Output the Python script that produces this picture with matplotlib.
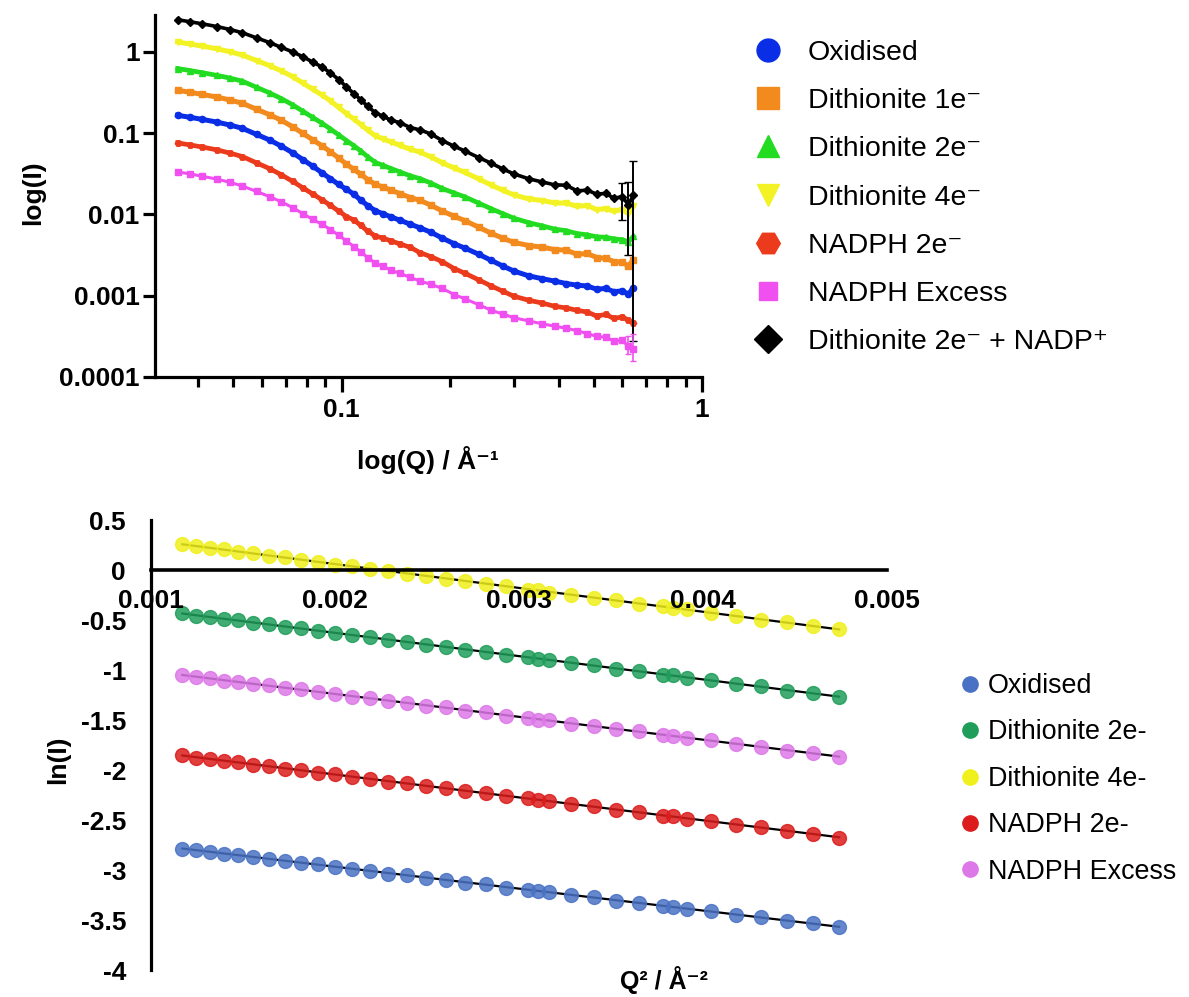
import numpy as np
import matplotlib
matplotlib.use("Agg")
import matplotlib.pyplot as plt
from matplotlib.lines import Line2D
from matplotlib.ticker import NullFormatter, NullLocator

plt.rcParams['font.family'] = ['Liberation Sans', 'DejaVu Sans']
plt.rcParams['axes.unicode_minus'] = False

# ---------------- Top panel data: log10(I) vs Q ----------------
q = [0.035, 0.038, 0.041, 0.045, 0.049, 0.053, 0.058, 0.063, 0.068, 0.073,
     0.078, 0.083, 0.088, 0.093, 0.098, 0.103, 0.108, 0.113, 0.118, 0.124,
     0.130, 0.137, 0.145, 0.155, 0.165, 0.177, 0.190, 0.205, 0.220, 0.240,
     0.260, 0.280, 0.300, 0.330, 0.360, 0.390, 0.420, 0.450, 0.480, 0.510,
     0.540, 0.570, 0.600, 0.625, 0.645]

log_oxidised = [-0.779, -0.805, -0.830, -0.863, -0.900, -0.940, -1.015, -1.083, -1.160, -1.240,
                -1.325, -1.405, -1.485, -1.560, -1.630, -1.690, -1.750, -1.825, -1.890, -1.955,
                -1.990, -2.030, -2.071, -2.120, -2.165, -2.220, -2.290, -2.360, -2.415, -2.490,
                -2.565, -2.635, -2.695, -2.755, -2.790, -2.820, -2.850, -2.870, -2.880, -2.920,
                -2.910, -2.950, -2.940, -2.980, -2.900]
log_dith1e = [-0.471, -0.497, -0.522, -0.555, -0.592, -0.632, -0.705, -0.772, -0.842, -0.920,
              -1.002, -1.080, -1.152, -1.228, -1.305, -1.380, -1.445, -1.505, -1.570, -1.630,
              -1.662, -1.702, -1.743, -1.792, -1.827, -1.887, -1.957, -2.022, -2.077, -2.157,
              -2.232, -2.292, -2.342, -2.382, -2.402, -2.432, -2.440, -2.490, -2.480, -2.530,
              -2.540, -2.580, -2.590, -2.630, -2.560]
log_dith2e = [-0.204, -0.230, -0.255, -0.288, -0.322, -0.360, -0.435, -0.503, -0.575, -0.650,
              -0.730, -0.805, -0.875, -0.948, -1.020, -1.090, -1.153, -1.220, -1.290, -1.360,
              -1.395, -1.435, -1.476, -1.525, -1.560, -1.615, -1.680, -1.735, -1.785, -1.860,
              -1.930, -1.990, -2.045, -2.100, -2.140, -2.180, -2.200, -2.235, -2.250, -2.275,
              -2.280, -2.300, -2.310, -2.335, -2.270]
log_dith4e = [0.123, 0.097, 0.072, 0.039, 0.002, -0.038, -0.106, -0.168, -0.233, -0.303,
              -0.383, -0.458, -0.528, -0.601, -0.683, -0.758, -0.826, -0.893, -0.963, -1.033,
              -1.068, -1.108, -1.149, -1.198, -1.233, -1.293, -1.363, -1.428, -1.483, -1.563,
              -1.638, -1.703, -1.758, -1.808, -1.828, -1.858, -1.860, -1.900, -1.890, -1.940,
              -1.930, -1.960, -1.940, -1.990, -1.900]
log_nadph2e = [-1.119, -1.145, -1.170, -1.205, -1.245, -1.288, -1.365, -1.435, -1.512, -1.592,
               -1.672, -1.747, -1.817, -1.888, -1.958, -2.025, -2.068, -2.135, -2.205, -2.265,
               -2.290, -2.325, -2.362, -2.405, -2.470, -2.520, -2.580, -2.665, -2.725, -2.805,
               -2.880, -2.945, -3.005, -3.055, -3.090, -3.130, -3.150, -3.180, -3.200, -3.250,
               -3.230, -3.280, -3.260, -3.300, -3.330]
log_nadph_excess = [-1.476, -1.502, -1.530, -1.565, -1.605, -1.650, -1.717, -1.780, -1.845, -1.915,
                    -1.990, -2.060, -2.120, -2.185, -2.255, -2.325, -2.395, -2.460, -2.530, -2.600,
                    -2.640, -2.685, -2.725, -2.775, -2.820, -2.860, -2.910, -2.985, -3.040, -3.110,
                    -3.180, -3.225, -3.270, -3.310, -3.345, -3.375, -3.400, -3.430, -3.465, -3.500,
                    -3.510, -3.560, -3.550, -3.620, -3.660]
log_dith2e_nadp = [0.397, 0.371, 0.346, 0.313, 0.276, 0.236, 0.173, 0.116, 0.056, 0.001,
                   -0.059, -0.124, -0.184, -0.257, -0.339, -0.429, -0.512, -0.589, -0.669, -0.749,
                   -0.790, -0.840, -0.870, -0.930, -0.960, -1.010, -1.090, -1.160, -1.220, -1.300,
                   -1.370, -1.440, -1.500, -1.560, -1.600, -1.635, -1.640, -1.710, -1.700, -1.750,
                   -1.740, -1.800, -1.780, -1.880, -1.760]

# error bars at the highest-Q points
black_err_q = [0.600, 0.625, 0.645]
black_err_lo = [0.008, 0.010, 0.0171]
black_err_hi = [0.008, 0.012, 0.0276]
magenta_err_q = [0.625, 0.645]
magenta_err_lo = [0.00005, 0.00006]
magenta_err_hi = [0.00008, 0.00012]

top_labels = ['Oxidised', 'Dithionite 1e\u207b', 'Dithionite 2e\u207b', 'Dithionite 4e\u207b',
              'NADPH 2e\u207b', 'NADPH Excess', 'Dithionite 2e\u207b + NADP\u207a']
top_series = [log_oxidised, log_dith1e, log_dith2e, log_dith4e, log_nadph2e,
              log_nadph_excess, log_dith2e_nadp]
top_colors = ['#0a2ee6', '#f28a1e', '#22dc22', '#f2f224', '#ec3a1c', '#f050f0', '#000000']
top_markers = ['o', 's', '^', 'v', 'H', 's', 'D']
top_legend_ms = [16.5, 16, 16, 16, 17, 13.5, 14]
top_lw = [3.6, 3.6, 3.4, 3.6, 3.4, 2.2, 2.6]

# ---------------- Bottom panel data: ln(I) vs Q^2 ----------------
q2 = [0.001170, 0.001243, 0.001318, 0.001395, 0.001475, 0.001556, 0.001640, 0.001726,
      0.001815, 0.001905, 0.001998, 0.002093, 0.002190, 0.002290, 0.002391, 0.002495,
      0.002601, 0.002709, 0.002820, 0.002932, 0.003047, 0.003105, 0.003164, 0.003283,
      0.003405, 0.003528, 0.003654, 0.003782, 0.003835, 0.003913, 0.004045, 0.004180,
      0.004317, 0.004456, 0.004597, 0.004740]

ln_oxidised = [-2.785, -2.798, -2.815, -2.838, -2.850, -2.866, -2.893, -2.905, -2.930, -2.944,
               -2.970, -2.985, -3.006, -3.035, -3.050, -3.080, -3.096, -3.126, -3.143, -3.175,
               -3.195, -3.212, -3.220, -3.252, -3.272, -3.306, -3.326, -3.362, -3.366, -3.390,
               -3.412, -3.449, -3.472, -3.510, -3.534, -3.565]
ln_dith2e = [-0.430, -0.455, -0.466, -0.490, -0.503, -0.528, -0.541, -0.569, -0.582, -0.610,
             -0.625, -0.654, -0.670, -0.700, -0.716, -0.748, -0.765, -0.798, -0.816, -0.850,
             -0.868, -0.890, -0.896, -0.931, -0.952, -0.988, -1.010, -1.048, -1.052, -1.078,
             -1.100, -1.140, -1.163, -1.205, -1.228, -1.268]
ln_dith4e = [0.265, 0.245, 0.222, 0.208, 0.183, 0.170, 0.142, 0.128, 0.100, 0.085,
             0.055, 0.040, 0.008, -0.008, -0.040, -0.056, -0.091, -0.108, -0.143, -0.160,
             -0.197, -0.203, -0.225, -0.245, -0.282, -0.303, -0.340, -0.362, -0.383, -0.393,
             -0.432, -0.455, -0.495, -0.520, -0.560, -0.585]
ln_nadph2e = [-1.850, -1.876, -1.885, -1.911, -1.921, -1.947, -1.959, -1.986, -1.999, -2.027,
              -2.041, -2.070, -2.085, -2.115, -2.131, -2.162, -2.179, -2.211, -2.229, -2.262,
              -2.281, -2.302, -2.308, -2.343, -2.363, -2.399, -2.420, -2.457, -2.461, -2.487,
              -2.509, -2.548, -2.572, -2.611, -2.636, -2.676]
ln_nadph_excess = [-1.048, -1.070, -1.081, -1.105, -1.116, -1.142, -1.153, -1.181, -1.193, -1.222,
                   -1.235, -1.265, -1.279, -1.310, -1.325, -1.357, -1.373, -1.406, -1.423, -1.457,
                   -1.475, -1.496, -1.502, -1.537, -1.557, -1.593, -1.614, -1.651, -1.655, -1.681,
                   -1.703, -1.742, -1.765, -1.805, -1.829, -1.868]

bot_labels = ['Oxidised', 'Dithionite 2e-', 'Dithionite 4e-', 'NADPH 2e-', 'NADPH Excess']
bot_series = [ln_oxidised, ln_dith2e, ln_dith4e, ln_nadph2e, ln_nadph_excess]
bot_colors = ['#4a72c4', '#1f9e5a', '#f0f01c', '#dc1c1c', '#dd78e8']

x_ticks_top = [0.1, 1]
x_ticklabels_top = ['0.1', '1']
y_ticks_top = [1e-4, 1e-3, 1e-2, 1e-1, 1]
y_ticklabels_top = ['0.0001', '0.001', '0.01', '0.1', '1']
x_ticks_bot = [0.001, 0.002, 0.003, 0.004, 0.005]
x_ticklabels_bot = ['0.001', '0.002', '0.003', '0.004', '0.005']
y_ticks_bot = [0.5, 0, -0.5, -1, -1.5, -2, -2.5, -3, -3.5, -4]
y_ticklabels_bot = ['0.5', '0', '-0.5', '-1', '-1.5', '-2', '-2.5', '-3', '-3.5', '-4']

# ---------------- Figure ----------------
W, H = 1189, 997
fig = plt.figure(figsize=(W / 100, H / 100), dpi=100)

def rect(l, t, r, b):
    return [l / W, 1 - b / H, (r - l) / W, (b - t) / H]

# ---- top axes
ax1 = fig.add_axes(rect(155, 15, 702, 377))
qa = np.array(q)
for vals, col, mk, lw in zip(top_series, top_colors, top_markers, top_lw):
    ax1.plot(qa, 10 ** np.array(vals), color=col, marker=mk, ms=4.5, lw=lw,
             mec=col, mfc=col, zorder=2)
ax1.errorbar(black_err_q, 10 ** np.array(log_dith2e_nadp[-3:]),
             yerr=[black_err_lo, black_err_hi], fmt='none', ecolor='black',
             elinewidth=1.4, capsize=3, zorder=3)
ax1.errorbar(magenta_err_q, 10 ** np.array(log_nadph_excess[-2:]),
             yerr=[magenta_err_lo, magenta_err_hi], fmt='none', ecolor='#f050f0',
             elinewidth=1.2, capsize=2, zorder=3)

ax1.set_xscale('log')
ax1.set_yscale('log')
ax1.set_xlim(0.0303, 1)
ax1.set_ylim(1e-4, 2.85)
for s in ['top', 'right']:
    ax1.spines[s].set_visible(False)
for s in ['left', 'bottom']:
    ax1.spines[s].set_linewidth(2.3)
ax1.set_xticks(x_ticks_top, x_ticklabels_top, fontsize=19, fontweight='bold')
ax1.set_xticks([0.04, 0.05, 0.06, 0.07, 0.08, 0.09, 0.2, 0.3, 0.4, 0.5, 0.6, 0.7, 0.8, 0.9],
               minor=True)
ax1.xaxis.set_minor_formatter(NullFormatter())
ax1.set_yticks(y_ticks_top, y_ticklabels_top, fontsize=19, fontweight='bold')
ax1.yaxis.set_minor_locator(NullLocator())
ax1.tick_params(axis='x', which='major', length=11, width=2.3, pad=4)
ax1.tick_params(axis='x', which='minor', length=7, width=2.3)
ax1.tick_params(axis='y', which='major', length=9, width=2.3, pad=2)

ax1.set_ylabel('log(I)', fontsize=19, fontweight='bold', va='center')
ax1.yaxis.set_label_coords((33 - 155) / 547, (377 - 193) / 362)
ax1.set_xlabel('log(Q) / \u00c5\u207b\u00b9', fontsize=19, fontweight='bold', va='center')
ax1.xaxis.set_label_coords((428 - 155) / 547, (377 - 460) / 362)

top_handles = [Line2D([], [], ls='none', marker=mk, ms=ms, color=col, mec=col)
               for mk, ms, col in zip(top_markers, top_legend_ms, top_colors)]
fig.legend(top_handles, top_labels, loc='upper left',
           bbox_to_anchor=(754 / W, 1 - 40 / H), bbox_transform=fig.transFigure,
           frameon=False, fontsize=20.5, handlelength=1.0, handletextpad=0.9,
           labelspacing=0.78, borderpad=0, borderaxespad=0)

# ---- bottom axes
ax2 = fig.add_axes(rect(151, 520, 887, 970))
q2a = np.array(q2)
for vals, col in zip(bot_series, bot_colors):
    v = np.array(vals)
    slope, intercept = np.polyfit(q2a, v, 1)
    ends = np.array([q2a[0], q2a[-1]])
    ax2.plot(ends, slope * ends + intercept, color='black', lw=1.6, zorder=1.8)
    ax2.plot(q2a, v, ls='none', marker='o', ms=10, color=col, mec=col, alpha=0.85,
             zorder=2)

ax2.set_xlim(0.001, 0.005)
ax2.set_ylim(-4, 0.5)
ax2.set_axisbelow(False)
for s in ['top', 'right']:
    ax2.spines[s].set_visible(False)
ax2.spines['bottom'].set_position(('data', 0))
ax2.spines['bottom'].set_linewidth(2.6)
ax2.spines['left'].set_linewidth(2.3)
ax2.set_xticks(x_ticks_bot, x_ticklabels_bot, fontsize=19, fontweight='bold')
ax2.set_yticks(y_ticks_bot, y_ticklabels_bot, fontsize=19, fontweight='bold')
ax2.tick_params(axis='x', length=0, pad=14)
ax2.tick_params(axis='y', length=0, pad=18)

ax2.set_ylabel('ln(I)', fontsize=19, fontweight='bold', va='center')
ax2.yaxis.set_label_coords((58 - 151) / 736, (970 - 760) / 450)
ax2.set_xlabel('Q\u00b2 / \u00c5\u207b\u00b2', fontsize=18, fontweight='bold', va='center')
ax2.xaxis.set_label_coords((664 - 151) / 736, (970 - 980) / 450)

bot_handles = [Line2D([], [], ls='none', marker='o', ms=11, color=col, mec=col)
               for col in bot_colors]
fig.legend(bot_handles, bot_labels, loc='upper left',
           bbox_to_anchor=(962 / W, 1 - 673 / H), bbox_transform=fig.transFigure,
           frameon=False, fontsize=19.4, handlelength=0.6, handletextpad=0.37,
           labelspacing=0.76, borderpad=0, borderaxespad=0)

fig.savefig('out.png', dpi=100)
